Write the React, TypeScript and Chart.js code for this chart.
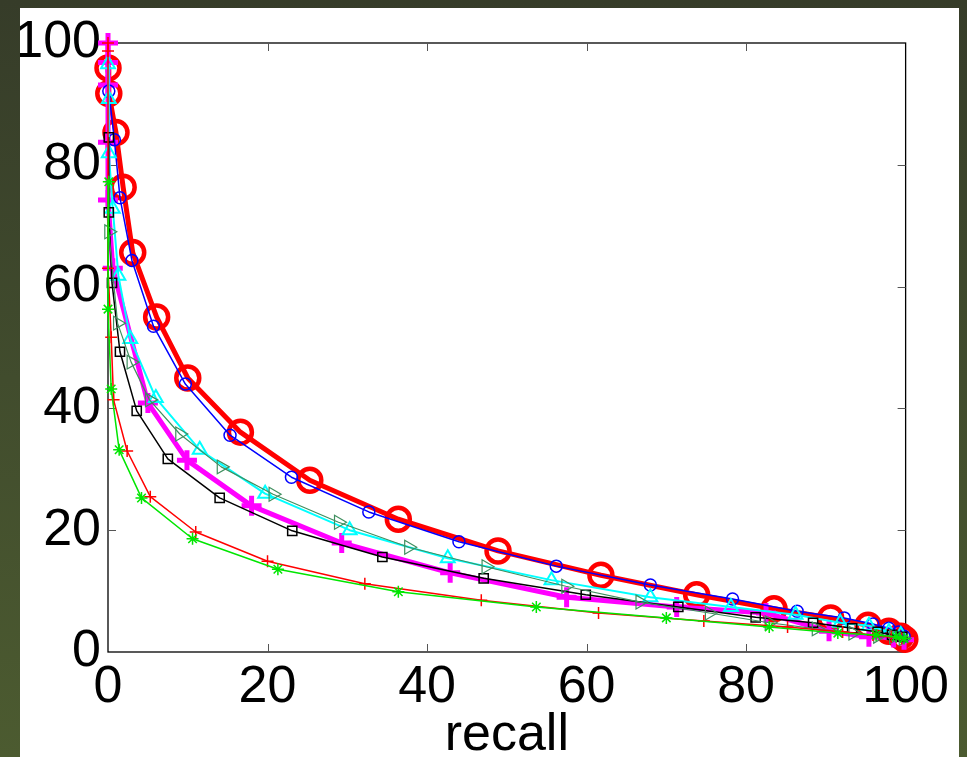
import React, { useEffect, useRef } from 'react';
import { Chart, registerables } from 'chart.js';
Chart.register(...registerables);

// ---- data (recall %, precision %) ----
const redCircleX = [0, 0.1, 1.0, 1.9, 3.1, 6.1, 10, 16.6, 25.3, 36.4, 48.9, 61.8, 73.8, 83.5, 90.6, 95.3, 97.9, 99.4, 99.9];
const redCircleY = [95.9, 91.7, 85.3, 76.3, 65.6, 55, 45, 36.1, 28.2, 21.8, 16.6, 12.6, 9.4, 7.1, 5.6, 4.4, 3.4, 2.6, 2.1];

const blueCircleX = [0.1, 0.8, 1.5, 3.0, 5.7, 9.7, 15.3, 23, 32.7, 44, 56.2, 68, 78.3, 86.4, 92.3, 95.9, 97.9, 99.1, 99.8];
const blueCircleY = [92.1, 84.1, 74.6, 64.3, 53.5, 44, 35.6, 28.7, 23, 18.1, 14.1, 11, 8.7, 6.7, 5.6, 4.6, 3.9, 3.3, 2.6];

const cyanTriX = [0, 0.1, 0.1, 0.6, 1.3, 2.8, 6, 11.5, 19.7, 30.3, 42.6, 55.6, 68, 78.1, 86.2, 91.8, 95.4, 97.9, 99.4];
const cyanTriY = [96.5, 90.8, 81.9, 72.8, 61.8, 51.4, 41.7, 33.2, 26, 20, 15.4, 11.8, 9, 7.4, 6.1, 4.8, 4.3, 3.3, 2.8];

const magentaPlusX = [0, 0, 0, 0, 0, 0.6, 5, 9.9, 18, 29.3, 42.9, 57.5, 71.3, 82.5, 90.4, 95.4, 98.5, 99.8];
const magentaPlusY = [100, 96.8, 93.1, 83.7, 74.2, 63, 40.9, 31.5, 24, 17.9, 13, 9, 7.4, 6.4, 3.4, 2.5, 2.4, 2];

const blackSquareX = [0.1, 0.1, 0.5, 1.5, 3.6, 7.5, 14, 23.1, 34.4, 47.1, 59.9, 71.5, 81.2, 88.4, 93.3, 96.5, 98.3, 99.6];
const blackSquareY = [84.5, 72.2, 60.6, 49.3, 39.6, 31.7, 25.3, 19.9, 15.6, 12.1, 9.4, 7.4, 5.7, 4.8, 3.9, 3.3, 2.8, 2.5];

const greenTriX = [0.1, 1.2, 2.9, 5.2, 9, 14.2, 20.7, 28.9, 37.7, 47.4, 57.4, 66.7, 75.4, 82.9, 88.8, 93.4, 96.5, 98.5, 99.7];
const greenTriY = [69, 54, 47.6, 41.4, 35.8, 30.4, 25.9, 21.3, 17.2, 14, 10.8, 8.2, 6.4, 4.8, 3.8, 3.1, 2.6, 2.5, 2.2];

const redPlusX = [0, 0, 0, 0.4, 0.7, 2.4, 5.3, 11, 20, 32.2, 46.8, 61.5, 74.7, 85.2, 92.1, 95.9, 98.2, 99.5];
const redPlusY = [100, 98.7, 63, 51.7, 41.4, 33, 25.5, 19.7, 14.9, 11.2, 8.5, 6.4, 5.1, 4.1, 3.3, 2.8, 2.5, 2.2];

const greenStarX = [0.1, 0, 0.4, 1.4, 4.2, 10.6, 21.3, 36.4, 53.7, 70, 82.9, 91.5, 96.3, 98.8, 99.8];
const greenStarY = [77.2, 56.3, 43.2, 33.2, 25.3, 18.6, 13.6, 9.9, 7.4, 5.6, 4.1, 3.1, 2.8, 2.5, 2.2];

const axisTicks = [0, 20, 40, 60, 80, 100];
const xAxisTitle = 'recall';

const FONT_FAMILY = '"Liberation Sans", Arial, Helvetica, sans-serif';

const pts = (xs: number[], ys: number[]) => xs.map((x, i) => ({ x, y: ys[i] }));

const matlabBox = {
  id: 'matlabBox',
  beforeDatasetsDraw(chart: any) {
    const { ctx, chartArea, scales } = chart;
    const { left, right, top, bottom } = chartArea;
    ctx.save();
    ctx.strokeStyle = '#000';
    ctx.lineWidth = 1.3;
    ctx.strokeRect(left, top, right - left, bottom - top);
    ctx.strokeStyle = '#555';
    ctx.lineWidth = 1;
    const tl = 8;
    axisTicks.slice(1, -1).forEach((v) => {
      const x = Math.round(scales.x.getPixelForValue(v)) + 0.5;
      ctx.beginPath();
      ctx.moveTo(x, bottom);
      ctx.lineTo(x, bottom - tl);
      ctx.moveTo(x, top);
      ctx.lineTo(x, top + tl);
      ctx.stroke();
      const y = Math.round(scales.y.getPixelForValue(v)) + 0.5;
      ctx.beginPath();
      ctx.moveTo(left, y);
      ctx.lineTo(left + tl, y);
      ctx.moveTo(right, y);
      ctx.lineTo(right - tl, y);
      ctx.stroke();
    });
    ctx.restore();
  },
};

export default function App() {
  const canvasRef = useRef<HTMLCanvasElement | null>(null);

  useEffect(() => {
    if (!canvasRef.current) return;
    const common = { showLine: true, clip: false as any, fill: false, tension: 0 };
    const chart = new Chart(canvasRef.current, {
      type: 'scatter',
      data: {
        datasets: [
          {
            ...common,
            label: 'red-o',
            data: pts(redCircleX, redCircleY),
            borderColor: '#ff0000',
            borderWidth: 5,
            pointStyle: 'circle',
            pointRadius: 11.5,
            pointBorderWidth: 4.5,
            pointBackgroundColor: 'rgba(0,0,0,0)',
            pointBorderColor: '#ff0000',
            order: 8,
          },
          {
            ...common,
            label: 'magenta-+',
            data: pts(magentaPlusX, magentaPlusY),
            borderColor: '#ff00ff',
            borderWidth: 5,
            pointStyle: 'cross',
            pointRadius: 10,
            pointBorderWidth: 5,
            pointBorderColor: '#ff00ff',
            order: 7,
          },
          {
            ...common,
            label: 'blue-o',
            data: pts(blueCircleX, blueCircleY),
            borderColor: '#0000ff',
            borderWidth: 1.5,
            pointStyle: 'circle',
            pointRadius: 6,
            pointBorderWidth: 1.5,
            pointBackgroundColor: 'rgba(0,0,0,0)',
            pointBorderColor: '#0000ff',
            order: 6,
          },
          {
            ...common,
            label: 'cyan-^',
            data: pts(cyanTriX, cyanTriY),
            borderColor: '#00ffff',
            borderWidth: 2,
            pointStyle: 'triangle',
            pointRadius: 8,
            pointBorderWidth: 2,
            pointBackgroundColor: 'rgba(0,0,0,0)',
            pointBorderColor: '#00ffff',
            order: 5,
          },
          {
            ...common,
            label: 'black-s',
            data: pts(blackSquareX, blackSquareY),
            borderColor: '#000000',
            borderWidth: 1.5,
            pointStyle: 'rect',
            pointRadius: 6.5,
            pointBorderWidth: 1.5,
            pointBackgroundColor: 'rgba(0,0,0,0)',
            pointBorderColor: '#000000',
            order: 4,
          },
          {
            ...common,
            label: 'green->',
            data: pts(greenTriX, greenTriY),
            borderColor: '#3f8f5f',
            borderWidth: 1.2,
            pointStyle: 'triangle',
            pointRotation: 90,
            pointRadius: 8,
            pointBorderWidth: 1.2,
            pointBackgroundColor: 'rgba(0,0,0,0)',
            pointBorderColor: '#3f8f5f',
            order: 3,
          },
          {
            ...common,
            label: 'red-+',
            data: pts(redPlusX, redPlusY),
            borderColor: '#ff0000',
            borderWidth: 1.5,
            pointStyle: 'cross',
            pointRadius: 6,
            pointBorderWidth: 1.5,
            pointBorderColor: '#ff0000',
            order: 2,
          },
          {
            ...common,
            label: 'green-*',
            data: pts(greenStarX, greenStarY),
            borderColor: '#00e600',
            borderWidth: 1.5,
            pointStyle: 'star',
            pointRadius: 6,
            pointBorderWidth: 1.5,
            pointBorderColor: '#00e600',
            order: 1,
          },
        ] as any,
      },
      options: {
        animation: false,
        responsive: true,
        maintainAspectRatio: false,
        layout: { padding: { top: 35, right: 48, left: 0, bottom: 0 } },
        plugins: { legend: { display: false }, tooltip: { enabled: false } },
        elements: { line: { borderJoinStyle: 'round' as any } },
        scales: {
          x: {
            type: 'linear',
            min: 0,
            max: 100,
            grid: { display: false, drawTicks: false },
            border: { display: false },
            afterBuildTicks: (s: any) => { s.ticks = axisTicks.map((v) => ({ value: v })); },
            afterFit: (s: any) => { s.height = 105; },
            ticks: {
              color: '#000',
              padding: 10,
              maxRotation: 0,
              font: { family: FONT_FAMILY, size: 52, lineHeight: 1 },
              callback: (v: any) => String(v),
            },
            title: {
              display: true,
              text: xAxisTitle,
              color: '#000',
              font: { family: FONT_FAMILY, size: 52, lineHeight: 1 },
              padding: { top: 0, bottom: -5 },
            },
          },
          y: {
            type: 'linear',
            min: 0,
            max: 100,
            grid: { display: false, drawTicks: false },
            border: { display: false },
            afterBuildTicks: (s: any) => { s.ticks = axisTicks.map((v) => ({ value: v })); },
            afterFit: (s: any) => { s.width = 88; },
            ticks: {
              color: '#000',
              padding: 7,
              font: { family: FONT_FAMILY, size: 52, lineHeight: 1 },
              callback: (v: any) => String(v),
            },
          },
        },
      },
      plugins: [matlabBox],
    });
    return () => chart.destroy();
  }, []);

  return (
    <div
      style={{
        position: 'fixed',
        left: 0,
        top: 0,
        width: 967,
        height: 757,
        background: 'linear-gradient(to bottom, #363c29 0%, #414c2d 50%, #4c5b30 100%)',
        overflow: 'hidden',
      }}
    >
      <div
        style={{
          position: 'absolute',
          left: 20,
          top: 8,
          width: 939,
          height: 749,
          background: '#ffffff',
        }}
      >
        <canvas ref={canvasRef} />
      </div>
    </div>
  );
}
